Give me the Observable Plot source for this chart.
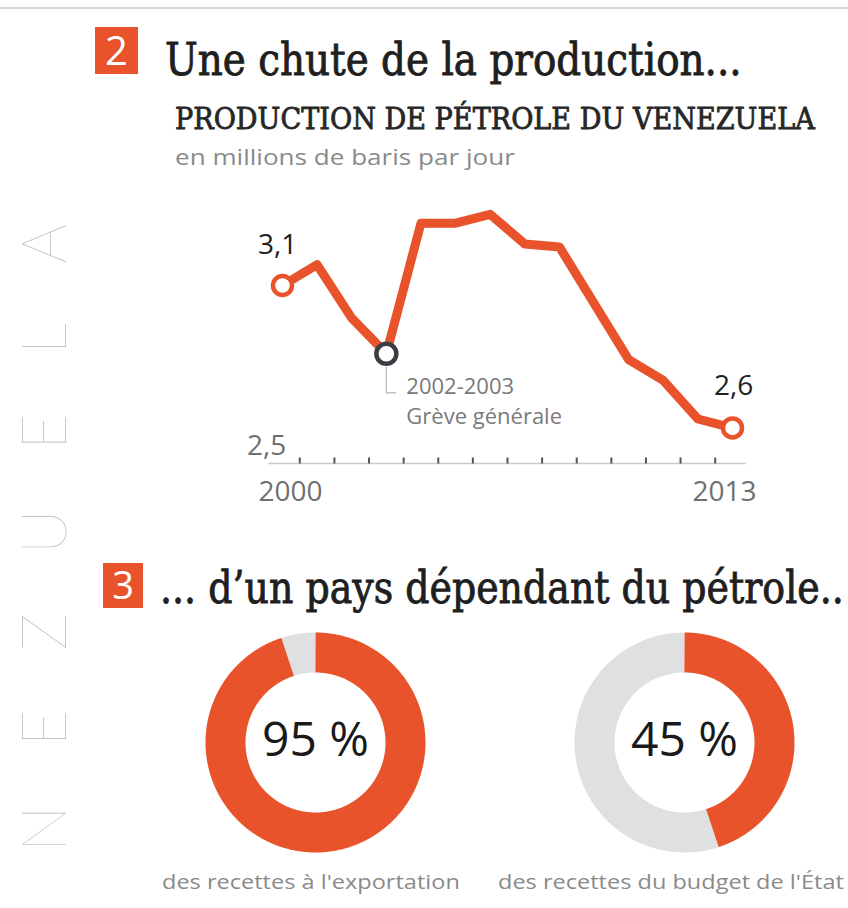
<!DOCTYPE html>
<html><head><meta charset="utf-8">
<script src="https://cdn.jsdelivr.net/npm/d3@7"></script>
<script src="https://cdn.jsdelivr.net/npm/@observablehq/plot@0.6"></script>
<style>
html,body{margin:0;padding:0;background:#fff;overflow:hidden}
#page{position:relative;width:848px;height:908px;overflow:hidden;background:#fff}
#page > svg{position:absolute}
</style></head>
<body><div id="page"></div>
<script>
// ---------- DATA ----------
const years = [2000, 2001, 2002, 2003, 2004, 2005, 2006, 2007, 2008, 2009, 2010, 2011, 2012, 2013];
const production = [3.10, 3.17, 2.99, 2.87, 3.31, 3.31, 3.34, 3.24, 3.23, 3.04, 2.85, 2.78, 2.65, 2.62];
const strikeYear = 2003;
const strikeLabels = ["2002-2003", "Grève générale"];
const tickYears = [2000.5, 2001.5, 2002.5, 2003.5, 2004.5, 2005.5, 2006.5, 2007.5, 2008.5, 2009.5, 2010.5, 2011.5, 2012.5];
const yearLabels = ["2000", "2013"];
const yBase = 2.5;
const yBaseLabel = "2,5";
const axisExtent = [1999.6, 2013.4];
const shareValues = [95, 45];
const shareLabels = ["des recettes à l'exportation", "des recettes du budget de l'État"];

const ORANGE = "#e8532b";
const GREYRING = "#dfe0e1";
const page = document.getElementById("page");
const fr = d3.formatLocale({decimal: ",", thousands: " ", grouping: [3], currency: ["", "€"]}).format(".1f");

// ---------- DECORATION / TITLES ----------
const NS = "http://www.w3.org/2000/svg";
const deco = document.createElementNS(NS, "svg");
deco.setAttribute("width", 848); deco.setAttribute("height", 908);
deco.style.left = "0px"; deco.style.top = "0px";
deco.innerHTML = `
  <line x1="0" x2="848" y1="8" y2="8" stroke="#d6d6d6" stroke-width="2"/>
  <rect x="95" y="27" width="43" height="47" fill="${ORANGE}"/>
  <text x="116.5" y="65" text-anchor="middle" font-family="Open Sans" font-size="40" fill="#fff">2</text>
  <text class="fit" data-w="577" x="165" y="75" font-family="DejaVu Serif" font-size="44" fill="#1f1f1f" stroke="#1f1f1f" stroke-width="0.9">Une chute de la production...</text>
  <text class="fit" data-w="640" x="175" y="129" font-family="DejaVu Serif" font-size="29" fill="#262626" stroke="#262626" stroke-width="0.8">PRODUCTION DE PÉTROLE DU VENEZUELA</text>
  <text class="fit" data-w="340" x="175" y="165" font-family="Open Sans" font-size="21" fill="#8a8a8a">en millions de baris par jour</text>
  <rect x="103" y="563" width="40" height="45" fill="${ORANGE}"/>
  <text x="123" y="599" text-anchor="middle" font-family="Open Sans" font-size="38" fill="#fff">3</text>
  <text class="fit" data-w="684" x="160" y="603" font-family="DejaVu Serif" font-size="44" fill="#1f1f1f" stroke="#1f1f1f" stroke-width="0.9">... d’un pays dépendant du pétrole..</text>
  <text transform="translate(66,852) rotate(-90)" font-family="Lato" font-weight="100" font-size="62" fill="#b3b3b3" textLength="628" lengthAdjust="spacing">NEZUELA</text>
`;
page.appendChild(deco);

// caption texts (from data)
const capPos = [{x: 162, w: 298}, {x: 498, w: 346}];
shareLabels.forEach((t, i) => {
  const el = document.createElementNS(NS, "text");
  el.setAttribute("class", "fit");
  el.setAttribute("data-w", capPos[i].w);
  el.setAttribute("x", capPos[i].x); el.setAttribute("y", 889);
  el.setAttribute("font-family", "Open Sans"); el.setAttribute("font-size", 20);
  el.setAttribute("fill", "#8a8a8a");
  el.textContent = t;
  deco.appendChild(el);
});

function fitAll() {
  deco.querySelectorAll("text.fit").forEach(el => {
    const w = +el.getAttribute("data-w");
    const x = +el.getAttribute("x"), y = +el.getAttribute("y");
    const len = el.getComputedTextLength();
    if (!len) return;
    el.setAttribute("x", 0); el.setAttribute("y", 0);
    el.setAttribute("transform", `translate(${x},${y}) scale(${w / len},1)`);
  });
}
fitAll();

// ---------- LINE CHART ----------
const prod = years.map((year, i) => ({year, value: production[i]}));
const ends = [prod[0], prod[prod.length - 1]];
const strike = prod.filter(d => d.year === strikeYear);

const tickSymbol = {draw(ctx) { ctx.moveTo(0, 0); ctx.lineTo(0, -6); }};
const leaderSymbol = {draw(ctx) { ctx.moveTo(0, 13); ctx.lineTo(0, 39); ctx.lineTo(10, 39); }};

const chart = Plot.plot({
  width: 848, height: 330,
  marginTop: 105, marginBottom: 47, marginLeft: 0, marginRight: 0,
  style: {background: "transparent", overflow: "visible"},
  x: {domain: [2000, 2013], range: [282, 732], axis: null},
  y: {domain: [yBase, 3.1], axis: null},
  marks: [
    Plot.ruleY([yBase], {x1: axisExtent[0], x2: axisExtent[1], stroke: "#c9c9c9", strokeWidth: 1.5}),
    Plot.dot(tickYears, {x: d => d, y: () => yBase, symbol: tickSymbol, fill: "none", stroke: "#555", strokeWidth: 2}),
    Plot.dot(strike, {x: "year", y: "value", symbol: leaderSymbol, fill: "none", stroke: "#c2c2c2", strokeWidth: 1.5}),
    Plot.line(prod, {x: "year", y: "value", stroke: ORANGE, strokeWidth: 9, strokeLinejoin: "round"}),
    Plot.dot(ends, {x: "year", y: "value", r: 9.5, fill: "#fff", stroke: ORANGE, strokeWidth: 4.5}),
    Plot.dot(strike, {x: "year", y: "value", r: 10, fill: "#fff", stroke: "#3b3f44", strokeWidth: 4.5}),
    Plot.text([ends[0]], {x: "year", y: "value", text: d => fr(d.value), dx: -5, dy: -40, fontSize: 28, fill: "#222", fontFamily: "Open Sans"}),
    Plot.text([ends[1]], {x: "year", y: "value", text: d => fr(d.value), dx: 1, dy: -42, fontSize: 28, fill: "#222", fontFamily: "Open Sans"}),
    Plot.text([yBaseLabel], {x: () => years[0], y: () => yBase, text: d => d, dx: -16, dy: -17, fontSize: 28, fill: "#707070", fontFamily: "Open Sans"}),
    Plot.text([yearLabels[0]], {x: () => years[0], y: () => yBase, text: d => d, dx: 8, dy: 29, fontSize: 28, fill: "#707070", fontFamily: "Open Sans"}),
    Plot.text([yearLabels[1]], {x: () => years[years.length - 1], y: () => yBase, text: d => d, dx: -8, dy: 29, fontSize: 28, fill: "#707070", fontFamily: "Open Sans"}),
    Plot.text(strike, {x: "year", y: "value", text: () => strikeLabels[0], textAnchor: "start", dx: 20, dy: 33, fontSize: 22, fill: "#7a7a7a", fontFamily: "Open Sans"}),
    Plot.text(strike, {x: "year", y: "value", text: () => strikeLabels[1], textAnchor: "start", dx: 20, dy: 63, fontSize: 22, fill: "#7a7a7a", fontFamily: "Open Sans"})
  ]
});
chart.style.left = "0px"; chart.style.top = "180px";
page.appendChild(chart);

// ---------- DONUTS ----------
function arcPoints(f0, f1, r) {
  const n = Math.max(2, Math.ceil((f1 - f0) * 720));
  return d3.range(n + 1).map(i => {
    const a = 2 * Math.PI * (f0 + (f1 - f0) * i / n);
    return {x: r * Math.sin(a), y: r * Math.cos(a)};
  });
}
const donutCenters = [[315, 742], [684, 742]];
shareValues.forEach((v, i) => {
  const f = v / 100;
  const donut = Plot.plot({
    width: 240, height: 240, margin: 0,
    style: {background: "transparent", overflow: "visible"},
    x: {domain: [-120, 120], axis: null},
    y: {domain: [-120, 120], axis: null},
    marks: [
      Plot.line(arcPoints(f, 1, 90), {x: "x", y: "y", stroke: GREYRING, strokeWidth: 40, strokeLinecap: "butt"}),
      Plot.line(arcPoints(0, f, 90), {x: "x", y: "y", stroke: ORANGE, strokeWidth: 40, strokeLinecap: "butt"}),
      Plot.text([v], {x: () => 0, y: () => 0, text: d => `${d} %`, dy: -2, fontSize: 48, fill: "#1a1a1a", fontFamily: "Open Sans"})
    ]
  });
  donut.style.left = (donutCenters[i][0] - 120) + "px";
  donut.style.top = (donutCenters[i][1] - 120) + "px";
  page.appendChild(donut);
});
</script>
</body></html>
